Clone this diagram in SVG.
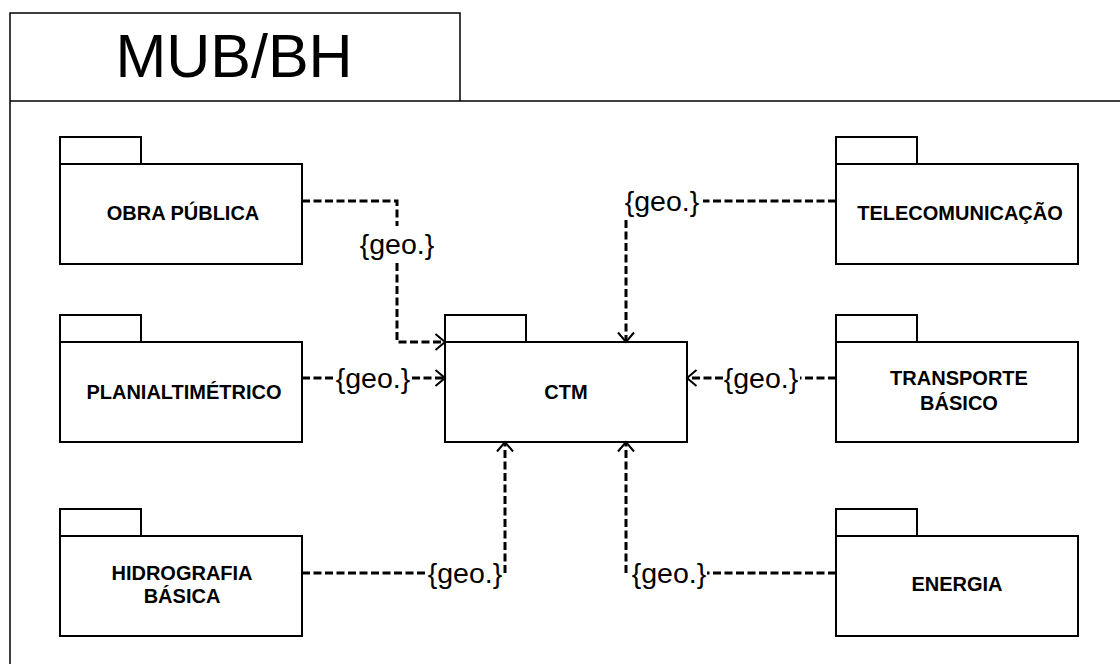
<svg xmlns="http://www.w3.org/2000/svg" width="1120" height="664" viewBox="0 0 1120 664">
<style>
.frame{fill:none;stroke:#000;stroke-width:1.5}
.pkg{fill:#fff;stroke:#000;stroke-width:2}
.name{font-family:"Liberation Sans",Arial,sans-serif;font-weight:bold;font-size:20px;text-anchor:middle;fill:#000}
.title{font-family:"Liberation Sans",Arial,sans-serif;font-size:61px;text-anchor:middle;fill:#000}
.lbl{font-family:"Liberation Sans",Arial,sans-serif;font-size:28.5px;text-anchor:middle;fill:#000}
.dep{fill:none;stroke:#000;stroke-width:3;stroke-dasharray:8 3.5}
</style>
<defs>
<marker id="open" markerUnits="userSpaceOnUse" markerWidth="20" markerHeight="20" viewBox="-12 -10 14 20" refX="0" refY="0" orient="auto">
<path d="M-9.5,-8 L0,0 L-9.5,8" fill="none" stroke="#000" stroke-width="2" stroke-dasharray="none"/>
</marker>
</defs>
<rect width="1120" height="664" fill="#fff"/>
<g id="frame">
<path class="frame" d="M10,700 V13 H460 V101"/>
<path class="frame" d="M10,101 H1130"/>
<text class="title" x="234" y="77">MUB/BH</text>
</g>
<g id="obra-publica">
<rect class="pkg" x="60" y="137" width="81" height="27"/>
<rect class="pkg" x="60" y="164" width="242" height="100"/>
<text class="name" x="183" y="220">OBRA PÚBLICA</text>
</g>
<g id="planialtimetrico">
<rect class="pkg" x="60" y="315" width="81" height="27"/>
<rect class="pkg" x="60" y="342" width="242" height="100"/>
<text class="name" x="184" y="399">PLANIALTIMÉTRICO</text>
</g>
<g id="hidrografia-basica">
<rect class="pkg" x="60" y="509" width="81" height="27"/>
<rect class="pkg" x="60" y="536" width="242" height="100"/>
<text class="name" x="182" y="580">HIDROGRAFIA</text>
<text class="name" x="182" y="603">BÁSICA</text>
</g>
<g id="ctm">
<rect class="pkg" x="445" y="315" width="81" height="27"/>
<rect class="pkg" x="445" y="342" width="242" height="100"/>
<text class="name" x="566" y="399">CTM</text>
</g>
<g id="telecomunicacao">
<rect class="pkg" x="836" y="137" width="81" height="27"/>
<rect class="pkg" x="836" y="164" width="242" height="100"/>
<text class="name" x="960" y="220">TELECOMUNICAÇÃO</text>
</g>
<g id="transporte-basico">
<rect class="pkg" x="836" y="315" width="81" height="27"/>
<rect class="pkg" x="836" y="342" width="242" height="100"/>
<text class="name" x="959" y="385">TRANSPORTE</text>
<text class="name" x="959" y="410">BÁSICO</text>
</g>
<g id="energia">
<rect class="pkg" x="836" y="509" width="81" height="27"/>
<rect class="pkg" x="836" y="536" width="242" height="100"/>
<text class="name" x="957" y="591">ENERGIA</text>
</g>
<g id="connectors">
<path class="dep" d="M302,201 H397 V226"/>
<path class="dep" d="M397,263 V342 H445" marker-end="url(#open)"/>
<text class="lbl" x="397" y="254">{geo.}</text>

<path class="dep" d="M302,378 H333"/>
<path class="dep" d="M412,378 H445" marker-end="url(#open)"/>
<text class="lbl" x="373" y="388">{geo.}</text>

<path class="dep" d="M836,378 H800"/>
<path class="dep" d="M723,378 H687" marker-end="url(#open)"/>
<text class="lbl" x="761" y="388">{geo.}</text>

<path class="dep" d="M836,201 H703"/>
<path class="dep" d="M626,220 V342" marker-end="url(#open)"/>
<text class="lbl" x="662" y="211">{geo.}</text>

<path class="dep" d="M302,573 H426"/>
<path class="dep" d="M505,573 V442" marker-end="url(#open)"/>
<text class="lbl" x="465" y="583">{geo.}</text>

<path class="dep" d="M836,573 H707"/>
<path class="dep" d="M626,573 V442" marker-end="url(#open)"/>
<text class="lbl" x="669" y="583">{geo.}</text>
</g>
</svg>
